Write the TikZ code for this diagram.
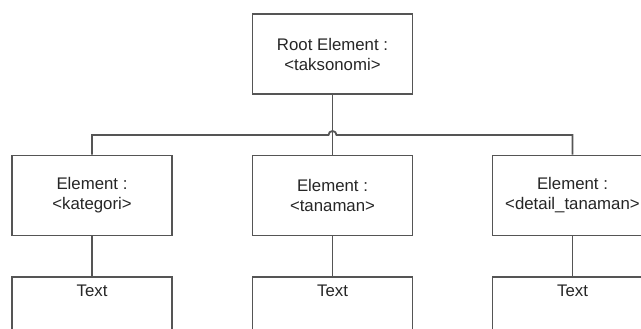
\documentclass[tikz,border=0pt]{standalone}
\usepackage{fontspec}
\setmainfont{Liberation Sans}
\definecolor{linegray}{HTML}{555555}
\begin{document}
\begin{tikzpicture}[x=1pt, y=-1pt,
    elembox/.style={draw=linegray, line width=1.8pt, fill=white, align=center,
        minimum width=160pt, minimum height=80pt, inner sep=2pt,
        font=\fontsize{16.8}{20}\selectfont, text=black!85},
    textbox/.style={draw=linegray, line width=1.8pt, fill=white,
        minimum width=160pt, text height=17pt, text depth=60pt, inner sep=3pt,
        font=\fontsize{16.8}{20}\selectfont, text=black!85},
    conn/.style={draw=linegray, line width=1.8pt}]
    \useasboundingbox (0,0) rectangle (641,329);
    \clip (0,0) rectangle (641,329);

    % Root
    \node[elembox] (root) at (332.5, 54) {Root Element :\\<taksonomi>};

    % Elements
    \node[elembox] (kategori) at (92, 195.5) {Element :\\<kategori>};
    \node[elembox] (tanaman) at (332.5, 195.5) {Element :\\<tanaman>};
    \node[elembox] (detail) at (572.5, 195.5) {Element :\\<detail\_tanaman>};

    % Text boxes (cut off at the bottom)
    \node[textbox, anchor=north] (txtkat) at (92, 276) {Text};
    \node[textbox, anchor=north] (txttan) at (332.5, 276) {Text};
    \node[textbox, anchor=north] (txtdet) at (572.5, 276) {Text};

    % Connectors, with a hop over the middle one
    \coordinate (bus) at (332.5, 135);
    \draw[conn] (root.south) -- (tanaman.north);
    \draw[conn] (kategori.north) |- ([xshift=-4pt]bus)
        arc[start angle=180, end angle=360, radius=4] -| (detail.north);

    \foreach \a/\b in {kategori/txtkat, tanaman/txttan, detail/txtdet}
        \draw[conn] (\a.south) -- (\b.north);
\end{tikzpicture}
\end{document}
